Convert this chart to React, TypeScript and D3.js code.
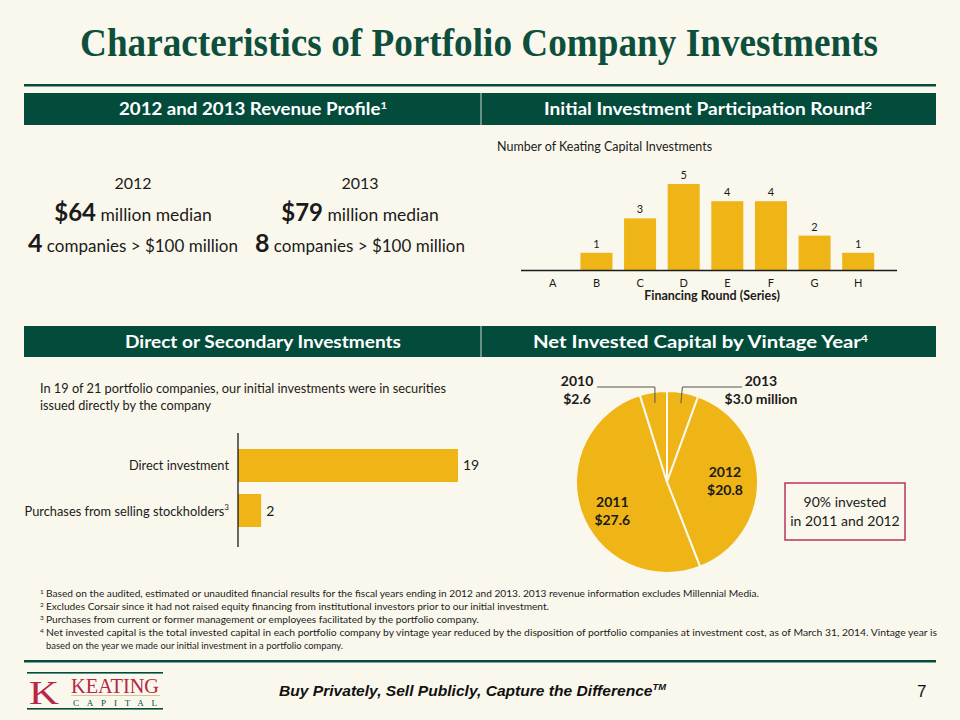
import React from "react";
import * as d3 from "d3";

// ---------- data ----------
const revenueYears = ["2012", "2013"];
const revenueMedians = [64, 79];
const revenueBigCompanies = [4, 8];

const rounds = ["A", "B", "C", "D", "E", "F", "G", "H"];
const roundCounts = [0, 1, 3, 5, 4, 4, 2, 1];

const directCategories = ["Direct investment", "Purchases from selling stockholders"];
const directSup = ["", "3"];
const directValues = [19, 2];

const vintageYears = ["2013", "2012", "2011", "2010"];
const vintageValues = [3.0, 20.8, 27.6, 2.6];
const vintageValueLabels = ["$3.0 million", "$20.8", "$27.6", "$2.6"];

const footnotes = [
  { n: "1", lines: ["Based on the audited, estimated or unaudited financial results for the fiscal years ending in 2012 and 2013. 2013 revenue information excludes Millennial Media."] },
  { n: "2", lines: ["Excludes Corsair since it had not raised equity financing from institutional investors prior to our initial investment."] },
  { n: "3", lines: ["Purchases from current or former management or employees facilitated by the portfolio company."] },
  { n: "4", lines: ["Net invested capital is the total invested capital in each portfolio company by vintage year reduced by the disposition of portfolio companies at investment cost, as of March 31, 2014. Vintage year is", "based on the year we made our initial investment in a portfolio company."] },
];
const footnoteWidths = [713, 503, 433, 891, 297];

// ---------- styles ----------
const BG = "#faf8ec";
const GREEN = "#034c3b";
const GOLD = "#efb416";
const TEXT = "#1b1b1b";
const CRIMSON = "#b93462";
const FONT = "Lato, 'Noto Sans', sans-serif";

export default function App() {
  // Bar chart (rounds)
  const xRound = d3.scalePoint<string>().domain(rounds).range([531, 880]).padding(0.5);
  const yRound = d3.scaleLinear().domain([0, 5]).range([270, 184]);
  const barW = 32;

  // Horizontal bars
  const xDir = d3.scaleLinear().domain([0, 19]).range([238, 458]);
  const yDir = d3.scaleBand<string>().domain(directCategories).range([435.5, 540.5]).paddingInner(0.267).paddingOuter(0.3);

  // Pie
  const cx = 667, cy = 482, R = 91;
  const pie = d3.pie<number>().sort(null).value((d) => d);
  const arcs = pie(vintageValues);
  const arcGen = d3.arc<d3.PieArcDatum<number>>().innerRadius(0).outerRadius(R);
  const labelArc = d3.arc<d3.PieArcDatum<number>>().innerRadius(58).outerRadius(58);
  const leaderR = 80;

  let lineIdx = 0;

  return (
    <svg width={960} height={720} style={{ position: "absolute", left: 0, top: 0, display: "block" }} fontFamily={FONT}>
      <rect x={0} y={0} width={960} height={720} fill={BG} />

      {/* Title */}
      <text x={80} y={56} fontFamily="'Liberation Serif', 'Times New Roman', serif" fontWeight="bold" fontSize={39} fill="#0d4f3c" textLength={798} lengthAdjust="spacingAndGlyphs">
        Characteristics of Portfolio Company Investments
      </text>
      <rect x={24} y={84} width={912} height={2.5} fill={GREEN} />

      {/* Header bar 1 */}
      <rect x={24} y={93} width={912} height={32} fill={GREEN} />
      <line x1={481} x2={481} y1={93} y2={125} stroke="#cfd8cf" strokeWidth={1} />
      <text x={119} y={115} fill="white" fontWeight="bold" fontSize={16.5} textLength={268} lengthAdjust="spacingAndGlyphs">
        2012 and 2013 Revenue Profile<tspan fontSize={10} dy={-6}>1</tspan>
      </text>
      <text x={544} y={115} fill="white" fontWeight="bold" fontSize={16.5} textLength={328} lengthAdjust="spacingAndGlyphs">
        Initial Investment Participation Round<tspan fontSize={10} dy={-6}>2</tspan>
      </text>

      {/* Revenue profile */}
      {revenueYears.map((yr, i) => {
        const cxr = i === 0 ? 133 : 360;
        return (
          <g key={yr} fill={TEXT} textAnchor="middle">
            <text x={cxr} y={189} fontSize={16}>{yr}</text>
            <text x={cxr} y={221} fontSize={17.5}>
              <tspan fontWeight="bold" fontSize={24}>${revenueMedians[i]}</tspan> million median
            </text>
            <text x={cxr} y={252} fontSize={17}>
              <tspan fontWeight="bold" fontSize={25}>{revenueBigCompanies[i]}</tspan> companies &gt; $100 million
            </text>
          </g>
        );
      })}

      {/* Round bar chart */}
      <text x={497} y={151} fontSize={12.5} fill={TEXT}>Number of Keating Capital Investments</text>
      {rounds.map((r, i) => {
        const x = xRound(r)!;
        const v = roundCounts[i];
        return (
          <g key={r}>
            {v > 0 && (
              <>
                <rect x={x - barW / 2} y={yRound(v)} width={barW} height={yRound(0) - yRound(v)} fill={GOLD} />
                <text x={x} y={yRound(v) - 5} textAnchor="middle" fontSize={11} fill={TEXT}>{v}</text>
              </>
            )}
            <text x={x} y={287} textAnchor="middle" fontSize={11} fill={TEXT}>{r}</text>
          </g>
        );
      })}
      <line x1={521} x2={897} y1={270.5} y2={270.5} stroke={TEXT} strokeWidth={1.3} />
      <text x={712} y={300} textAnchor="middle" fontSize={12.5} fontWeight="bold" fill={TEXT}>Financing Round (Series)</text>

      {/* Header bar 2 */}
      <rect x={24} y={326} width={912} height={31} fill={GREEN} />
      <line x1={481} x2={481} y1={326} y2={357} stroke="#cfd8cf" strokeWidth={1} />
      <text x={125} y={347.5} fill="white" fontWeight="bold" fontSize={16.5} textLength={276} lengthAdjust="spacingAndGlyphs">
        Direct or Secondary Investments
      </text>
      <text x={533} y={347.5} fill="white" fontWeight="bold" fontSize={16.5} textLength={335} lengthAdjust="spacingAndGlyphs">
        Net Invested Capital by Vintage Year<tspan fontSize={10} dy={-6}>4</tspan>
      </text>

      {/* Direct vs secondary */}
      <text x={40} y={393} fontSize={13.5} fill={TEXT} textLength={406} lengthAdjust="spacingAndGlyphs">
        In 19 of 21 portfolio companies, our initial investments were in securities
      </text>
      <text x={40} y={410} fontSize={13.5} fill={TEXT} textLength={171} lengthAdjust="spacingAndGlyphs">
        issued directly by the company
      </text>
      {directCategories.map((c, i) => {
        const y = yDir(c)!;
        const h = yDir.bandwidth();
        return (
          <g key={c}>
            <rect x={xDir(0)} y={y} width={xDir(directValues[i]) - xDir(0)} height={h} fill={GOLD} />
            <text x={229} y={y + h / 2 + 5} textAnchor="end" fontSize={12.8} fill={TEXT}>
              {c}
              {directSup[i] && <tspan fontSize={8} dy={-6}>{directSup[i]}</tspan>}
            </text>
            <text x={xDir(directValues[i]) + 5} y={y + h / 2 + 5} fontSize={14} fill={TEXT}>{directValues[i]}</text>
          </g>
        );
      })}
      <line x1={238} x2={238} y1={433} y2={547} stroke={TEXT} strokeWidth={1.3} />

      {/* Pie */}
      <g transform={`translate(${cx},${cy})`}>
        {arcs.map((a, i) => (
          <path key={vintageYears[i]} d={arcGen(a)!} fill={GOLD} stroke={BG} strokeWidth={2} />
        ))}
        {arcs.map((a, i) => {
          const big = vintageValues[i] > 10;
          if (big) {
            const [lx, ly] = labelArc.centroid(a);
            const adj = i === 2 ? 10 : 0;
            return (
              <text key={"l" + i} textAnchor="middle" fontSize={14} fontWeight="bold" fill={TEXT}>
                <tspan x={lx} y={ly + adj - 4}>{vintageYears[i]}</tspan>
                <tspan x={lx} y={ly + adj + 14}>{vintageValueLabels[i]}</tspan>
              </text>
            );
          }
          const mid = (a.startAngle + a.endAngle) / 2;
          const px = Math.sin(mid) * leaderR;
          const py = -Math.cos(mid) * leaderR;
          const yLine = 387 - cy;
          const right = px > 0;
          const ex = right ? 742 - cx : 597 - cx;
          const tx = right ? 761 - cx : 577 - cx;
          return (
            <g key={"l" + i}>
              <polyline points={`${px},${py} ${px + (right ? 1.5 : 0)},${yLine} ${ex},${yLine}`} fill="none" stroke="#555" strokeWidth={1} />
              <text textAnchor="middle" fontSize={14} fontWeight="bold" fill={TEXT}>
                <tspan x={tx} y={yLine - 1}>{vintageYears[i]}</tspan>
                <tspan x={tx} y={yLine + 17}>{vintageValueLabels[i]}</tspan>
              </text>
            </g>
          );
        })}
      </g>
      <rect x={785} y={483} width={120} height={57} fill="none" stroke={CRIMSON} strokeWidth={1.5} />
      <text textAnchor="middle" fontSize={14} fill={TEXT}>
        <tspan x={845} y={507}>90% invested</tspan>
        <tspan x={845} y={526}>in 2011 and 2012</tspan>
      </text>

      {/* Footnotes */}
      {footnotes.map((f, fi) =>
        f.lines.map((ln, li) => {
          const idx = lineIdx++;
          const y = 597 + idx * 13;
          return (
            <g key={fi + "-" + li} fill={TEXT}>
              {li === 0 && <text x={40} y={y - 3} fontSize={6.5}>{f.n}</text>}
              <text x={46} y={y} fontSize={10} textLength={footnoteWidths[idx]} lengthAdjust="spacingAndGlyphs">{ln}</text>
            </g>
          );
        })
      )}

      <rect x={24} y={660} width={912} height={2.5} fill={GREEN} />

      {/* Logo */}
      <g>
        <rect x={27} y={672} width={136} height={1.6} fill={GREEN} />
        <rect x={27} y={708} width={136} height={1.6} fill={GREEN} />
        <text x={29} y={704} fontFamily="'Liberation Serif', serif" fontSize={34} fill="#b8244a" textLength={30} lengthAdjust="spacingAndGlyphs">K</text>
        <text x={71} y={693} fontFamily="'Liberation Serif', serif" fontSize={20} fill="#b8244a" textLength={88} lengthAdjust="spacingAndGlyphs">KEATING</text>
        <line x1={71} x2={160} y1={695.5} y2={695.5} stroke="#d9c58a" strokeWidth={1} />
        <text x={73} y={706} fontFamily="'Liberation Serif', serif" fontSize={9} fill={GREEN} textLength={84} lengthAdjust="spacing">CAPITAL</text>
      </g>

      {/* Footer */}
      <text x={279} y={696} fontFamily="'Liberation Sans', Arial, sans-serif" fontWeight="bold" fontStyle="italic" fontSize={15} fill="#111" textLength={387} lengthAdjust="spacingAndGlyphs">
        Buy Privately, Sell Publicly, Capture the Difference<tspan fontSize={9} dy={-6}>TM</tspan>
      </text>
      <text x={917} y={697} fontFamily="'Liberation Sans', Arial, sans-serif" fontSize={17} fill="#111">7</text>
    </svg>
  );
}
